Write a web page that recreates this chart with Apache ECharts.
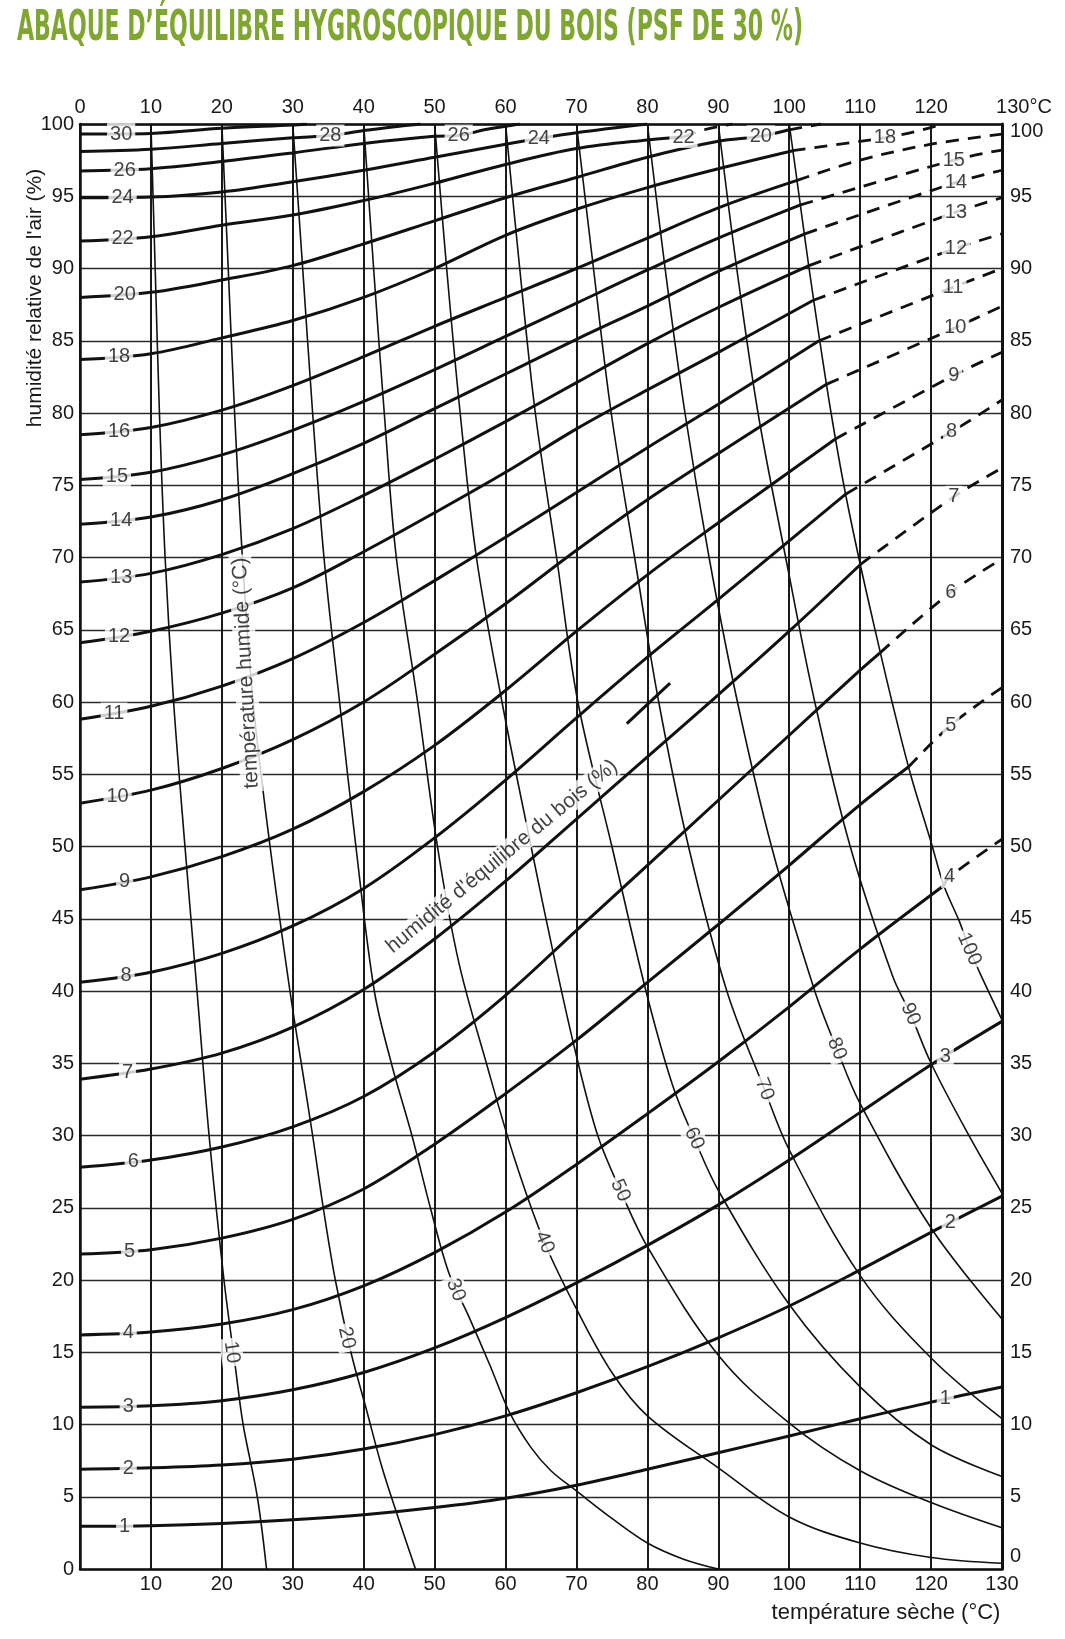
<!DOCTYPE html>
<html><head><meta charset="utf-8">
<script src="https://cdn.jsdelivr.net/npm/echarts/dist/echarts.min.js"></script>
<style>html,body{margin:0;padding:0;background:#fff;}#c{width:1065px;height:1639px;}</style>
</head><body><div id="c"></div>
<script>
// ---------- axis ticks ----------
const tempTicks = [0,10,20,30,40,50,60,70,80,90,100,110,120,130];
const rhTicks = [0,5,10,15,20,25,30,35,40,45,50,55,60,65,70,75,80,85,90,95,100];

// ---------- equilibrium moisture content curves (x = dry temp °C, y = RH %) ----------
const emc1  = [[0,2.95],[10,3.0],[20,3.15],[30,3.4],[40,3.75],[50,4.25],[60,4.9],[70,5.8],[80,6.9],[90,8.05],[100,9.2],[110,10.4],[120,11.55],[130,12.6]];
const emc2  = [[0,6.9],[10,7.0],[20,7.2],[30,7.6],[40,8.3],[50,9.3],[60,10.6],[70,12.2],[80,14.0],[90,16.0],[100,18.2],[110,20.7],[120,23.3],[130,25.8]];
const emc3  = [[0,11.2],[10,11.3],[20,11.65],[30,12.4],[40,13.6],[50,15.3],[60,17.4],[70,19.8],[80,22.4],[90,25.2],[100,28.3],[110,31.6],[120,34.9],[130,37.9]];
const emc4  = [[0,16.2],[10,16.4],[20,16.95],[30,17.95],[40,19.6],[50,21.9],[60,24.7],[70,28.0],[80,31.5],[90,35.1],[100,38.9],[110,42.9],[121.8,47.3]];
const emc5  = [[0,21.8],[10,22.1],[20,22.9],[30,24.2],[40,26.3],[50,29.4],[60,32.9],[70,36.6],[80,40.6],[90,44.6],[100,48.7],[110,52.9],[116.8,55.5]];
const emc6  = [[0,27.8],[10,28.3],[20,29.2],[30,30.6],[40,32.7],[50,35.8],[60,39.7],[70,44.2],[80,48.7],[90,53.2],[100,57.7],[110,62.2],[112.8,63.4]];
const emc7  = [[0,33.9],[10,34.6],[20,35.7],[30,37.5],[40,40.1],[50,43.6],[60,47.6],[70,51.9],[80,56.2],[90,60.5],[100,64.9],[110,69.5]];
const emc8  = [[0,40.6],[10,41.3],[20,42.6],[30,44.5],[40,47.1],[50,50.6],[60,54.6],[70,58.9],[80,63.1],[90,67.1],[108,74.4]];
const emc9  = [[0,47.0],[10,47.9],[20,49.3],[30,51.2],[40,53.8],[50,57.0],[60,60.8],[70,64.9],[80,68.8],[90,72.4],[106.5,78.2]];
const emc10 = [[0,53.0],[10,53.9],[20,55.4],[30,57.4],[40,60.0],[50,63.3],[60,66.8],[70,70.5],[80,74.0],[90,77.2],[105.3,82.0]];
const emc11 = [[0,58.8],[10,59.7],[20,61.1],[30,63.0],[40,65.5],[50,68.4],[60,71.4],[70,74.5],[80,77.6],[90,80.6],[104.2,85.0]];
const emc12 = [[0,64.1],[10,64.9],[20,66.15],[30,67.9],[40,70.4],[50,73.1],[60,75.9],[70,78.9],[80,81.6],[90,84.2],[103.4,87.8]];
const emc13 = [[0,68.3],[10,68.9],[20,70.2],[30,72.0],[40,74.3],[50,76.8],[60,79.4],[70,82.1],[80,84.8],[90,87.3],[102.8,90.2]];
const emc14 = [[0,72.3],[10,72.8],[20,74.0],[30,75.8],[40,77.9],[50,80.3],[60,82.7],[70,85.1],[80,87.4],[90,89.8],[102.2,92.4]];
const emc15 = [[0,75.4],[10,75.9],[20,77.1],[30,78.8],[40,80.8],[50,83.0],[60,85.3],[70,87.6],[80,89.9],[90,92.1],[101.6,94.4]];
const emc16 = [[0,78.5],[10,79.0],[20,80.2],[30,81.9],[40,83.9],[50,86.0],[60,88.0],[70,90.0],[80,92.1],[90,94.2],[101.1,96.1]];
const emc18 = [[0,83.7],[10,84.1],[20,85.2],[30,86.4],[40,88.0],[50,90.0],[60,92.3],[70,94.1],[80,95.6],[90,96.9],[100.5,98.15]];
const emc20 = [[0,88.0],[10,88.35],[20,89.2],[30,90.2],[40,91.7],[50,93.3],[60,94.9],[70,96.3],[80,97.7],[90,98.8],[96,99.15],[100,99.6]];
const emc22 = [[0,91.9],[10,92.2],[20,93.0],[30,93.7],[40,94.7],[50,95.9],[60,97.2],[70,98.3],[80,98.9],[85.1,99.1]];
const emc24 = [[0,94.9],[10,94.95],[20,95.3],[30,96.0],[40,96.8],[50,97.7],[60,98.6],[64.7,99.0],[70,99.4],[80,100]];
const emc26 = [[0,96.75],[10,96.9],[20,97.4],[30,98.0],[40,98.65],[50,99.15],[53.4,99.2],[57,99.6],[62,100]];
const emc28 = [[0,98.1],[10,98.25],[20,98.65],[30,99.05],[35.3,99.2],[40,99.55],[45,99.85],[48,100]];
const emc30 = [[0,99.3],[10,99.35],[20,99.7],[30,99.93],[32,100]];

// dashed (extrapolated) parts
const emc4d  = [[121.8,47.3],[122.6,47.9],[130,50.5]];
const emc5d  = [[116.8,55.5],[122.8,58.4],[130,61.0]];
const emc6d  = [[112.8,63.4],[122.8,67.6],[130,69.9]];
const emc7d  = [[110,69.5],[123.2,74.2],[130,76.2]];
const emc8d  = [[108,74.4],[122.9,78.7],[130,80.9]];
const emc9d  = [[106.5,78.2],[123.2,82.6],[130,84.2]];
const emc10d = [[105.3,82.0],[123.4,85.9],[130,87.4]];
const emc11d = [[104.2,85.0],[123.1,88.7],[130,90.0]];
const emc12d = [[103.4,87.8],[123.5,91.4],[130,92.4]];
const emc13d = [[102.8,90.2],[123.5,93.9],[130,94.9]];
const emc14d = [[102.2,92.4],[123.5,95.95],[130,96.8]];
const emc15d = [[101.6,94.4],[123.2,97.5],[130,98.2]];
const emc16d = [[101.1,96.1],[110,97.5],[120,98.6],[130,99.3]];
const emc18d = [[100.5,98.15],[110,98.8],[113.5,99.05],[118,99.5],[121,99.9]];
const emc20d = [[100,99.6],[104.5,100]];
const emc22d = [[85.1,99.1],[88,99.6],[92,100]];

// ---------- wet-bulb temperature curves ----------
const wb10  = [[10,100],[10.6,90],[11.2,80],[12.0,70],[13.2,60],[14.8,50],[16.5,40],[18.2,30],[20.3,20],[21.9,14],[23.0,10],[25.0,5],[26.3,0]];
const wb20  = [[20,100],[20.9,90],[21.8,80],[22.9,70],[24.4,60],[26.8,50],[29.6,40],[31.2,35],[32.8,30],[34.3,25],[36.0,20],[38.2,15],[40.4,11],[42.6,7],[44.9,3.5],[47.3,0]];
const wb30  = [[30,100],[31.4,90],[32.8,80],[34.4,70],[36.6,60],[38.9,50],[41.5,40],[43.9,35],[46.8,30],[49.4,25],[52.0,20.5],[54.7,17.6],[57.8,14.1],[60.6,10.8],[63.6,8.4],[66.4,6.8],[70,5.4],[75,3.5],[80,1.8],[85,0.7],[90,0]];
const wb40  = [[40,100],[41.4,90],[42.9,80],[44.6,70],[47.6,60],[50.4,50],[53.4,42],[57.3,35],[61.2,28.5],[65.5,22.6],[70,18.0],[75,13.6],[80,10.6],[90,7.0],[100,3.6],[110,1.8],[120,0.8],[130,0.4]];
const wb50  = [[50,100],[51.7,90],[53.6,80],[55.9,70],[59.5,60],[63.6,50],[67,42],[70,35.5],[73,30],[76.2,26.2],[80,22.3],[90,14.8],[100,10.1],[110,6.8],[120,4.6],[130,2.85]];
const wb60  = [[60,100],[62,90],[64.2,80],[67.2,70],[70.2,60],[75,50],[79.8,40],[83.6,33.4],[86.6,29.8],[90,26.2],[100,18.3],[110,12.6],[120,8.6],[130,6.4]];
const wb70  = [[70,100],[72.4,90],[74.9,80],[78.2,70],[81.6,60],[85.8,50],[91.2,40],[96.5,33.2],[100,29],[110,20.3],[120,14.6],[130,10.4]];
const wb80  = [[80,100],[82.5,90],[85.3,80],[88.7,70],[92.7,60],[97.5,50],[103.6,40],[106.7,36],[110,32.2],[120,23.6],[130,17.3]];
const wb90  = [[90,100],[92.6,90],[95.6,80],[99.5,70],[103.6,60],[108.6,50],[114.6,41],[117.1,38.4],[120,35.0],[125,30.3],[130,26]];
const wb100 = [[100,100],[101.4,95],[102.8,90],[104.3,85],[105.9,80],[107.7,75],[109.8,70],[112.1,65],[114.5,60],[117.1,55],[120,50.3],[121.8,47.3],[124,44.8],[125.5,42.8],[127.3,40.8],[130,38]];

// ---------- curve labels [x, y, text] ----------
const emcLabelsLeft = [[5.8,99.3,'30'],[6.3,96.8,'26'],[6,94.9,'24'],[6,92.1,'22'],[6.3,88.2,'20'],[5.5,83.9,'18'],[5.5,78.75,'16'],[5.2,75.6,'15'],[5.8,72.55,'14'],[5.8,68.65,'13'],[5.5,64.5,'12'],[4.8,59.2,'11'],[5.3,53.45,'10'],[6.3,47.55,'9'],[6.5,41.05,'8'],[6.7,34.35,'7'],[7.5,28.2,'6'],[7,22.0,'5'],[6.8,16.35,'4'],[6.8,11.25,'3'],[6.8,6.95,'2'],[6.3,2.97,'1']];
const emcLabelsTop = [[35.3,99.2,'28'],[53.4,99.2,'26'],[64.7,99.0,'24'],[85.1,99.1,'22'],[96.0,99.15,'20'],[113.5,99.05,'18']];
const emcLabelsRight = [[123.2,97.5,'15'],[123.5,95.95,'14'],[123.5,93.9,'13'],[123.5,91.4,'12'],[123.1,88.7,'11'],[123.4,85.9,'10'],[123.2,82.6,'9'],[122.9,78.7,'8'],[123.2,74.2,'7'],[122.8,67.6,'6'],[122.8,58.4,'5'],[122.6,47.9,'4'],[122.0,35.5,'3'],[122.7,24.0,'2'],[122.0,11.8,'1']];
const wbLabels = [[21.4,15.0,'10'],[37.6,16.0,'20'],[53.0,19.3,'30'],[65.5,22.6,'40'],[76.2,26.2,'50'],[86.6,29.8,'60'],[96.5,33.2,'70'],[106.7,36.0,'80'],[117.1,38.4,'90'],[125.4,42.9,'100']];
const annotations = [[23.4,62.0,'température humide (°C)'],[59.5,49.3,"humidité d'équilibre du bois (%)"]];
const leaderSeg = [[77.1,58.5],[83.2,61.3]];

// ---------- texts ----------
const titleText = 'ABAQUE D’ÉQUILIBRE HYGROSCOPIQUE DU BOIS (PSF DE 30 %)';
const yName = "humidité relative de l'air (%)";
const xName = 'température sèche (°C)';

// ---------- build ----------
const FONT = '"Liberation Sans", Arial, Helvetica, sans-serif';
const INK = '#111';
const chart = echarts.init(document.getElementById('c'), null, {renderer: 'canvas', width: 1065, height: 1639});

const emcSolid = [emc1,emc2,emc3,emc4,emc5,emc6,emc7,emc8,emc9,emc10,emc11,emc12,emc13,emc14,emc15,emc16,emc18,emc20,emc22,emc24,emc26,emc28,emc30];
const emcDash = [emc4d,emc5d,emc6d,emc7d,emc8d,emc9d,emc10d,emc11d,emc12d,emc13d,emc14d,emc15d,emc16d,emc18d,emc20d,emc22d];
const wbCurves = [wb10,wb20,wb30,wb40,wb50,wb60,wb70,wb80,wb90,wb100];
const wbRot = [-82,-77,-68,-67,-66,-65,-68,-68,-66,-66];
const annRot = [93, 39.4];

const series = [];
function lineSeries(d, style, z) {
  return {type: 'line', data: d, showSymbol: false, smooth: 0.35,
    lineStyle: style, z: z, silent: true, animation: false};
}
wbCurves.forEach(d => series.push(lineSeries(d, {color: INK, width: 1.6}, 2)));
emcSolid.forEach(d => series.push(lineSeries(d, {color: INK, width: 3}, 3)));
emcDash.forEach(d => series.push(lineSeries(d, {color: INK, width: 2.8, type: [13, 9]}, 3)));
series.push({type: 'line', data: leaderSeg, showSymbol: false, lineStyle: {color: INK, width: 3}, z: 3, silent: true, animation: false});

function labelSeries(items, rot, fs) {
  return {type: 'scatter', symbolSize: 1, itemStyle: {color: 'rgba(0,0,0,0)'}, z: 6, silent: true, animation: false,
    data: items.map((it, i) => {
      const o = {value: [it[0], it[1]], name: it[2]};
      if (rot) o.label = {rotate: rot[i]};
      return o;
    }),
    label: {show: true, position: 'inside', formatter: '{b}', fontSize: fs, color: INK, fontFamily: FONT,
      backgroundColor: '#fff', padding: [1, 3], lineHeight: fs}
  };
}
series.push(labelSeries(emcLabelsLeft, null, 20));
series.push(labelSeries(emcLabelsTop, null, 20));
series.push(labelSeries(emcLabelsRight, null, 20));
series.push(labelSeries(wbLabels, wbRot, 20));
series.push(labelSeries(annotations, annRot, 21));

const axisLineStyle = {color: INK, width: 2.5};
const labelBase = {fontSize: 20, color: '#1a1a1a', fontFamily: FONT};

const option = {
  animation: false,
  backgroundColor: '#fff',
  grid: {left: 80, top: 124, width: 922, height: 1445, containLabel: false},
  xAxis: [
    {type: 'value', position: 'bottom', min: 0, max: 130, interval: 10,
      axisLine: {show: true, onZero: false, lineStyle: axisLineStyle}, axisTick: {show: false},
      axisLabel: Object.assign({}, labelBase, {margin: 5, formatter: v => (v === 0 ? '' : String(v))}),
      splitLine: {show: true, lineStyle: {color: '#1a1a1a', width: 2}}},
    {type: 'value', position: 'top', min: 0, max: 130, interval: 10,
      axisLine: {show: true, onZero: false, lineStyle: axisLineStyle}, axisTick: {show: false},
      axisLabel: Object.assign({}, labelBase, {margin: 7,
        formatter: v => (v === 130 ? '{p| }130°C' : String(v)),
        rich: {p: {width: 44, fontSize: 20, fontFamily: FONT}}}),
      splitLine: {show: false}}
  ],
  yAxis: [
    {type: 'value', position: 'left', min: 0, max: 100, interval: 5,
      axisLine: {show: true, onZero: false, lineStyle: axisLineStyle}, axisTick: {show: false},
      axisLabel: Object.assign({}, labelBase, {margin: 6}),
      splitLine: {show: true, lineStyle: {color: '#2a2a2a', width: 1.4}}},
    {type: 'value', position: 'right', min: 0, max: 100, interval: 5,
      axisLine: {show: true, onZero: false, lineStyle: {color: INK, width: 3}}, axisTick: {show: false},
      axisLabel: Object.assign({}, labelBase, {margin: 8,
        formatter: v => (v === 0 ? '{lo|0}' : v === 100 ? '{hi|100}' : String(v)),
        rich: {lo: {fontSize: 20, fontFamily: FONT, color: '#1a1a1a', padding: [0, 0, 26, 0]},
               hi: {fontSize: 20, fontFamily: FONT, color: '#1a1a1a', padding: [14, 0, 0, 0]}}}),
      splitLine: {show: false}}
  ],
  series: series
};
chart.setOption(option);

// title scaled to the reference width
const titleFontFamily = '"Liberation Sans Narrow", "DejaVu Sans Condensed", "Liberation Sans", sans-serif';
const cvs = document.createElement('canvas').getContext('2d');
cvs.font = 'bold 42px ' + titleFontFamily;
const tw = cvs.measureText(titleText).width;
const sx = 786 / tw;

chart.setOption({
  graphic: [
    {type: 'text', x: 17, y: 29, scaleX: sx, scaleY: 1, silent: true,
      style: {text: titleText, fontSize: 42, fontWeight: 'bold', fontFamily: titleFontFamily,
        fill: '#7fa72f', verticalAlign: 'middle', align: 'left'}},
    {type: 'text', x: 35, y: 298, rotation: Math.PI / 2, silent: true,
      style: {text: yName, fontSize: 21, fontFamily: FONT, fill: '#1a1a1a', align: 'center', verticalAlign: 'middle'}},
    {type: 'text', x: 886, y: 1613, silent: true,
      style: {text: xName, fontSize: 22, fontFamily: FONT, fill: '#1a1a1a', align: 'center', verticalAlign: 'middle'}}
  ]
});
</script>
</body></html>
